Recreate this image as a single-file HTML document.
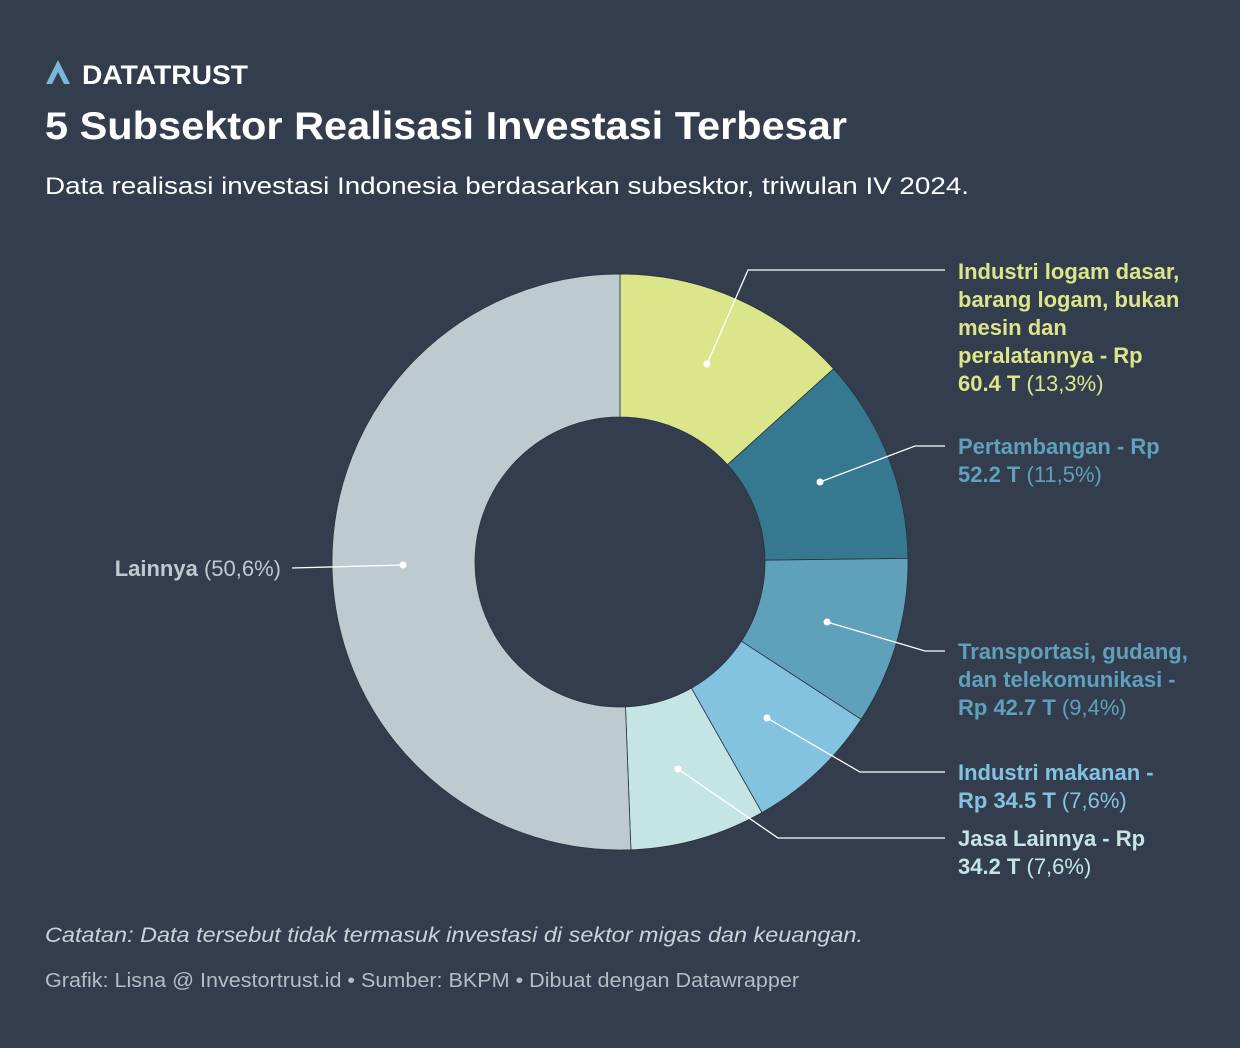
<!DOCTYPE html>
<html><head><meta charset="utf-8"><style>
html,body{margin:0;padding:0}
body{width:1240px;height:1048px;background:#333d4d;font-family:"Liberation Sans",sans-serif;overflow:hidden}
</style></head><body>
<svg width="1240" height="1048" xmlns="http://www.w3.org/2000/svg" style="position:absolute;left:0;top:0">
<rect width="1240" height="1048" fill="#333d4d"/>
<g>
<polygon points="46,84 58,60 70,84 64,84 58,72 52,84" fill="#7ab8d8"/>
<line x1="55" y1="84" x2="58" y2="77" stroke="#333d4d" stroke-width="1.5"/>
</g>
<text x="82" y="84" font-size="27" font-weight="bold" fill="#fff" textLength="166" lengthAdjust="spacingAndGlyphs">DATATRUST</text>
<text x="45" y="139" font-size="39" font-weight="bold" fill="#fff" textLength="802" lengthAdjust="spacingAndGlyphs">5 Subsektor Realisasi Investasi Terbesar</text>
<text x="45" y="194" font-size="24" fill="#fff" textLength="924" lengthAdjust="spacingAndGlyphs">Data realisasi investasi Indonesia berdasarkan subesktor, triwulan IV 2024.</text>
<g stroke="#2a3340" stroke-width="0.8">
<path d="M620,274 A288,288 0 0 1 833.6,368.8 L727.5,464.7 A145,145 0 0 0 620,417 Z" fill="#dbe68b"/>
<path d="M833.6,368.8 A288,288 0 0 1 908,558.4 L765,560.2 A145,145 0 0 0 727.5,464.7 Z" fill="#35788f"/>
<path d="M908,558.4 A288,288 0 0 1 861.2,719.4 L741.4,641.2 A145,145 0 0 0 765,560.2 Z" fill="#5fa0bb"/>
<path d="M861.2,719.4 A288,288 0 0 1 761.9,812.6 L691.4,688.2 A145,145 0 0 0 741.4,641.2 Z" fill="#84c3e0"/>
<path d="M761.9,812.6 A288,288 0 0 1 630.9,849.8 L625.5,706.9 A145,145 0 0 0 691.4,688.2 Z" fill="#c5e5e5"/>
<path d="M630.9,849.8 A288,288 0 0 1 332,562 A288,288 0 0 1 620,274 L620,417 A145,145 0 0 0 475,562 A145,145 0 0 0 625.5,706.9 Z" fill="#bdcacf"/>
</g>
<g stroke="#fff" stroke-width="1.3" fill="none">
<polyline points="707,364 748,270 945,270"/>
<polyline points="820,482 915,446 945,446"/>
<polyline points="827,622 925,651 945,651"/>
<polyline points="767,718 860,772 945,772"/>
<polyline points="678,769 778,838 945,838"/>
<polyline points="403,565 292,568"/>
</g>
<g fill="#fff">
<circle cx="707" cy="364" r="3.5"/><circle cx="820" cy="482" r="3.5"/><circle cx="827" cy="622" r="3.5"/>
<circle cx="767" cy="718" r="3.5"/><circle cx="678" cy="769" r="3.5"/><circle cx="403" cy="565" r="3.5"/>
</g>
<g font-size="22">
<g fill="#dbe68b">
<text x="958" y="279" font-weight="bold">Industri logam dasar,</text>
<text x="958" y="307" font-weight="bold">barang logam, bukan</text>
<text x="958" y="335" font-weight="bold">mesin dan</text>
<text x="958" y="363" font-weight="bold">peralatannya - Rp</text>
<text x="958" y="391"><tspan font-weight="bold">60.4 T</tspan> (13,3%)</text>
</g>
<g fill="#5fa0bb">
<text x="958" y="454" font-weight="bold">Pertambangan - Rp</text>
<text x="958" y="482"><tspan font-weight="bold">52.2 T</tspan> (11,5%)</text>
<text x="958" y="659" font-weight="bold">Transportasi, gudang,</text>
<text x="958" y="687" font-weight="bold">dan telekomunikasi -</text>
<text x="958" y="715"><tspan font-weight="bold">Rp 42.7 T</tspan> (9,4%)</text>
</g>
<g fill="#84c3e0">
<text x="958" y="780" font-weight="bold">Industri makanan -</text>
<text x="958" y="808"><tspan font-weight="bold">Rp 34.5 T</tspan> (7,6%)</text>
</g>
<g fill="#c5e5e5">
<text x="958" y="846" font-weight="bold">Jasa Lainnya - Rp</text>
<text x="958" y="874"><tspan font-weight="bold">34.2 T</tspan> (7,6%)</text>
</g>
<text x="281" y="576" fill="#bdcacf" text-anchor="end"><tspan font-weight="bold">Lainnya</tspan> (50,6%)</text>
</g>
<text x="45" y="942" font-size="21" font-style="italic" fill="#ccd2d8" textLength="818" lengthAdjust="spacingAndGlyphs">Catatan: Data tersebut tidak termasuk investasi di sektor migas dan keuangan.</text>
<text x="45" y="987" font-size="20" fill="#b4bcc4" textLength="754" lengthAdjust="spacingAndGlyphs">Grafik: Lisna @ Investortrust.id • Sumber: BKPM • Dibuat dengan Datawrapper</text>
</svg>
</body></html>
